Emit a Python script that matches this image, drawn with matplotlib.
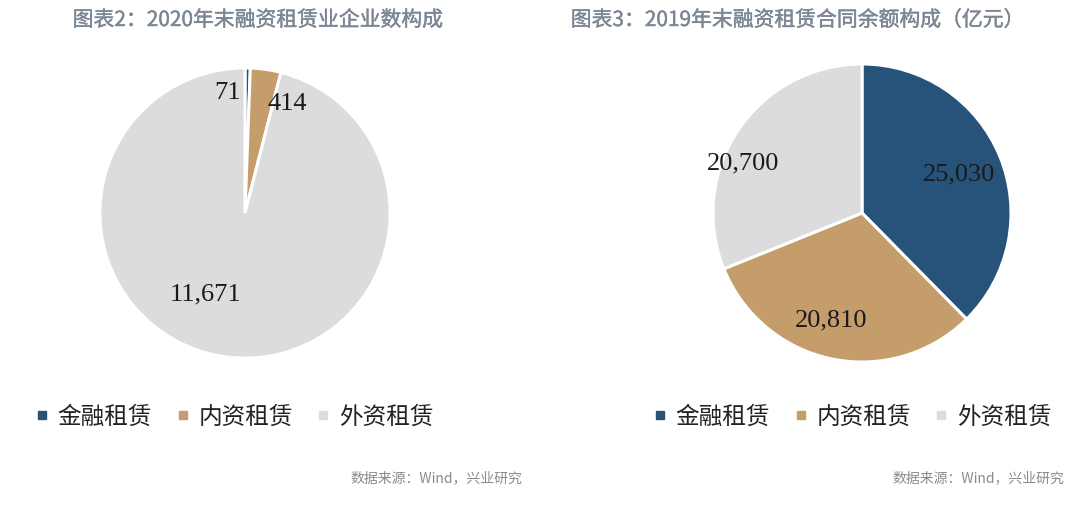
import matplotlib
matplotlib.use('Agg')
from matplotlib import pyplot as plt
from matplotlib.lines import Line2D
from matplotlib import patheffects as pe

plt.rcParams['font.family'] = ['Noto Sans CJK SC', 'DejaVu Sans']

categories = ['金融租赁', '内资租赁', '外资租赁']
colors = ['#27537a', '#c49d6b', '#dcdcdc']

# 图表2: 2020年末企业数
title_left = '图表2：2020年末融资租赁业企业数构成'
counts_2020 = [71, 414, 11671]
# label spots inside the pie (radius = 1)
pos_left = [(-0.12, 0.83), (0.29, 0.75), (-0.27, -0.56)]

# 图表3: 2019年末合同余额
title_right = '图表3：2019年末融资租赁合同余额构成（亿元）'
balance_2019 = [25030, 20810, 20700]
pos_right = [(0.65, 0.26), (-0.21, -0.72), (-0.80, 0.33)]

source = '数据来源：Wind，兴业研究'

fig = plt.figure(figsize=(10.8, 5.16), dpi=100)
W, H = 1080, 516


def pie_axes(cx, cy, r):
    return fig.add_axes([(cx - r) / W, (H - cy - r) / H, 2 * r / W, 2 * r / H])


def draw(ax, vals, pos):
    ax.pie(vals, colors=colors, startangle=90, counterclock=False, radius=1,
           wedgeprops=dict(edgecolor='white', linewidth=2.2))
    for v, (x, y) in zip(vals, pos):
        ax.text(x, y, f'{v:,}', ha='center', va='center', fontsize=19,
                family='Liberation Serif', color='#1a1a1a')
    ax.set_xlim(-1.02, 1.02)
    ax.set_ylim(-1.02, 1.02)
    ax.set_aspect('equal')
    ax.axis('off')


ax1 = pie_axes(245, 213, 148)
draw(ax1, counts_2020, pos_left)
ax2 = pie_axes(862, 213, 152)
draw(ax2, balance_2019, pos_right)

tcol = '#7b8794'
title_kw = dict(fontsize=15, color=tcol, ha='center', va='center',
                path_effects=[pe.withStroke(linewidth=0.3, foreground=tcol)])
fig.text(258 / W, 1 - 20 / H, title_left, **title_kw)
fig.text(798 / W, 1 - 20 / H, title_right, **title_kw)

handles = [Line2D([], [], marker='s', linestyle='none', markersize=6,
                  markerfacecolor=c, markeredgecolor=c) for c in colors]
for x0 in (14 / W, 632 / W):
    fig.legend(handles, categories, loc='center left', bbox_to_anchor=(x0, 1 - 417 / H),
               ncol=3, frameon=False, fontsize=17, handlelength=0.6, handletextpad=0.35,
               columnspacing=1.0, labelcolor='#222222')

src_kw = dict(fontsize=10, color='#8a8a8a', ha='right', va='center')
fig.text(522 / W, 1 - 478 / H, source, **src_kw)
fig.text(1064 / W, 1 - 478 / H, source, **src_kw)

fig.savefig('out.png', dpi=100, facecolor='white')
